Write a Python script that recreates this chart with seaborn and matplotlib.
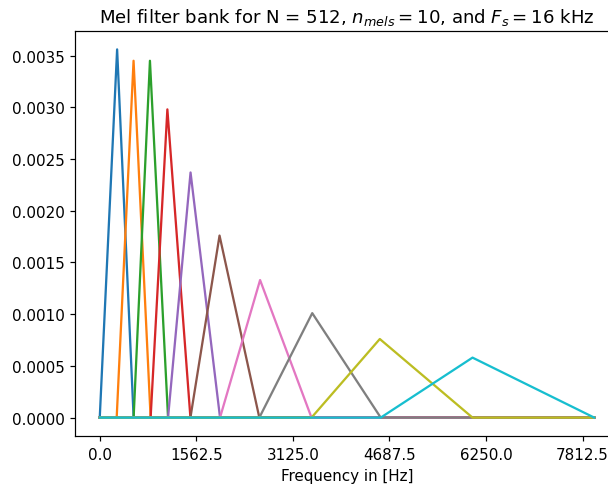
import matplotlib
matplotlib.use("Agg")
import matplotlib.pyplot as plt
import numpy as np
import pandas as pd
import seaborn as sns

# Triangular mel filters (Hz and filter weight)
F_MIN = 0.0
F_MAX = 8000.0
filter_left = [0.0, 274.0, 548.0, 823.0, 1105.0, 1467.0, 1946.0, 2582.0, 3426.0, 4546.0]
filter_center = [281.0, 547.0, 812.0, 1094.0, 1469.0, 1938.0, 2594.0, 3438.0, 4531.0, 6031.0]
filter_right = [548.0, 823.0, 1105.0, 1467.0, 1946.0, 2582.0, 3426.0, 4546.0, 6031.0, 8000.0]
filter_peak = [0.00356, 0.00345, 0.00345, 0.00298, 0.00237, 0.00176, 0.00133, 0.00101, 0.00076, 0.00058]

tick_hz = [0.0, 1562.5, 3125.0, 4687.5, 6250.0, 7812.5]
tick_labels = ["0.0", "1562.5", "3125.0", "4687.5", "6250.0", "7812.5"]

# reference looks like a default figure blown up by ~1.09
SCALE = 1.09
plt.rcParams.update({
    "font.size": 10 * SCALE,
    "axes.titlesize": 12 * SCALE,
    "axes.linewidth": 0.8 * SCALE,
    "xtick.major.size": 3.5 * SCALE,
    "ytick.major.size": 3.5 * SCALE,
    "xtick.major.width": 0.8 * SCALE,
    "ytick.major.width": 0.8 * SCALE,
    "xtick.major.pad": 3.5 * SCALE,
    "ytick.major.pad": 3.5 * SCALE,
    "axes.titlepad": 6 * SCALE,
    "axes.labelpad": 4 * SCALE,
})

# long table: one polyline per filter, zero outside its support
rows = []
for i in range(len(filter_peak)):
    xs = [F_MIN, filter_left[i], filter_center[i], filter_right[i], F_MAX]
    ys = [0.0, 0.0, filter_peak[i], 0.0, 0.0]
    for x, y in zip(xs, ys):
        rows.append({"freq": x, "weight": y, "filter": i})
df = pd.DataFrame(rows)

fig = plt.figure(figsize=(6.08, 4.89), dpi=100)
ax = fig.add_axes([0.1234, 0.1063, 0.8946, 0.8283])

sns.lineplot(data=df, x="freq", y="weight", hue="filter", palette="tab10",
             estimator=None, sort=False, legend=False, linewidth=1.5 * SCALE, ax=ax)

ax.set_xticks(tick_hz)
ax.set_xticklabels(tick_labels)
ax.set_xlabel("Frequency in [Hz]")
ax.set_ylabel("")
ax.set_title(r"Mel filter bank for N = 512, $n_{mels} = 10$, and $F_s = 16$ kHz")

fig.savefig("out.png", dpi=100)
